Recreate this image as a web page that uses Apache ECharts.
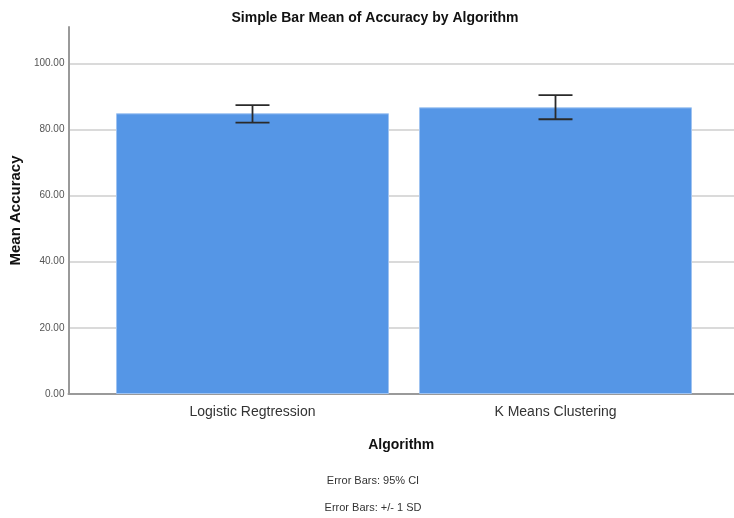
<!DOCTYPE html>
<html>
<head>
<meta charset="utf-8">
<script src="https://cdn.jsdelivr.net/npm/echarts@6/dist/echarts.min.js"></script>
<style>
html,body{margin:0;padding:0;background:#fff;}
#chart{width:734px;height:518px;}
</style>
</head>
<body>
<div id="chart"></div>
<script>
// Data
var categories = ['Logistic Regtression', 'K Means Clustering'];
var meanAccuracy = [84.9, 86.7];
var errorLow = [82.1, 83.1];
var errorHigh = [87.4, 90.4];
var yTicks = [0, 20, 40, 60, 80, 100];
var footnotes = ['Error Bars: 95% CI', 'Error Bars: +/- 1 SD'];

var FONT = 'Liberation Sans, Arial, sans-serif';
var chart = echarts.init(document.getElementById('chart'), null, {renderer: 'canvas'});

var errData = categories.map(function (c, i) { return [i, errorLow[i], errorHigh[i]]; });

var option = {
  backgroundColor: '#ffffff',
  animation: false,
  title: [
    {text: 'Simple Bar Mean of Accuracy by Algorithm', left: 370, top: 6, textAlign: 'center',
     textStyle: {fontFamily: FONT, fontSize: 14, fontWeight: 'bold', color: '#111'}},
    {text: footnotes[0], left: 368, top: 470, textAlign: 'center',
     textStyle: {fontFamily: FONT, fontSize: 11, fontWeight: 'normal', color: '#333'}},
    {text: footnotes[1], left: 368, top: 497, textAlign: 'center',
     textStyle: {fontFamily: FONT, fontSize: 11, fontWeight: 'normal', color: '#333'}}
  ],
  grid: [
    {left: 67, right: 0, top: 27, bottom: 124},
    {left: 101, right: 27, top: 27, bottom: 124}
  ],
  xAxis: [
    {type: 'category', gridIndex: 0, data: categories,
     axisLine: {show: true, lineStyle: {color: '#9a9a9a', width: 2}},
     axisTick: {show: false}, axisLabel: {show: false}, splitLine: {show: false},
     name: 'Algorithm', nameLocation: 'middle', nameGap: 44,
     nameTextStyle: {fontFamily: FONT, fontSize: 14, fontWeight: 'bold', color: '#111'}},
    {type: 'category', gridIndex: 1, data: categories,
     axisLine: {show: false}, axisTick: {show: false}, splitLine: {show: false},
     axisLabel: {show: true, fontFamily: FONT, fontSize: 14, color: '#333', margin: 11}}
  ],
  yAxis: [
    {type: 'value', gridIndex: 0, min: 0, max: 111, interval: 20,
     axisLine: {show: true, lineStyle: {color: '#9a9a9a', width: 2}},
     axisTick: {show: false},
     axisLabel: {fontFamily: FONT, fontSize: 10, color: '#555', margin: 4,
       formatter: function (v) { return yTicks.indexOf(v) >= 0 ? v.toFixed(2) : ''; }},
     splitLine: {show: true, showMaxLine: false, lineStyle: {color: '#dadada', width: 2}},
     name: 'Mean Accuracy', nameLocation: 'middle', nameGap: 39,
     nameTextStyle: {fontFamily: FONT, fontSize: 15, fontWeight: 'bold', color: '#111'}},
    {type: 'value', gridIndex: 1, min: 0, max: 111, interval: 20, show: false,
     splitLine: {show: false}}
  ],
  series: [
    {type: 'bar', xAxisIndex: 1, yAxisIndex: 1, data: meanAccuracy, barWidth: 273,
     itemStyle: {color: '#5596e6', borderColor: '#9fc3f1', borderWidth: 1}, z: 2},
    {type: 'custom', xAxisIndex: 1, yAxisIndex: 1, data: errData, z: 5,
     renderItem: function (params, api) {
       var x = api.value(0);
       var lo = api.coord([x, api.value(1)]);
       var hi = api.coord([x, api.value(2)]);
       var hw = 17;
       var st = {stroke: '#2a2a2a', lineWidth: 1.8};
       return {type: 'group', children: [
         {type: 'line', shape: {x1: lo[0], y1: lo[1], x2: hi[0], y2: hi[1]}, style: st},
         {type: 'line', shape: {x1: hi[0] - hw, y1: hi[1], x2: hi[0] + hw, y2: hi[1]}, style: st},
         {type: 'line', shape: {x1: lo[0] - hw, y1: lo[1], x2: lo[0] + hw, y2: lo[1]}, style: st}
       ]};
     }}
  ]
};
chart.setOption(option);
</script>
</body>
</html>
